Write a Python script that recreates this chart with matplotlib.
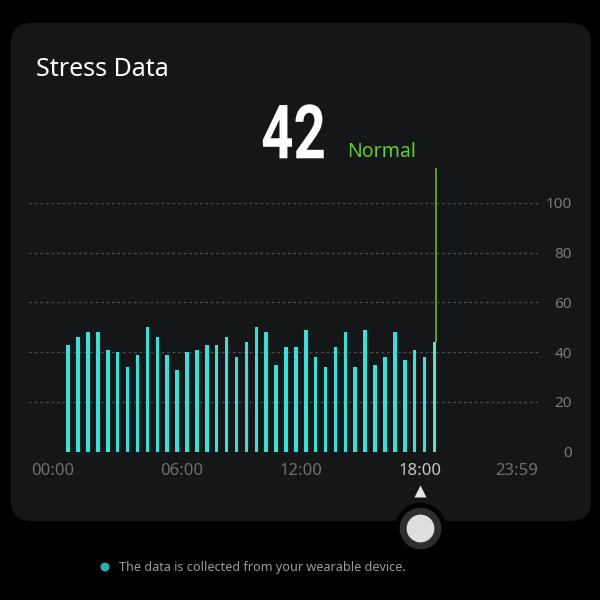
import numpy as np
import matplotlib
matplotlib.use("Agg")
import matplotlib.pyplot as plt
from matplotlib.patches import FancyBboxPatch, PathPatch, Circle
from matplotlib.textpath import TextPath
from matplotlib.font_manager import FontProperties
from matplotlib.transforms import blended_transform_factory, Affine2D, ScaledTranslation

# half-hour stress readings, 00:00 .. 18:30
slot_start = np.arange(0, 19, 0.5)
stress = [43, 46, 48, 48, 41, 40, 34, 39, 50, 46, 39, 33, 40, 41, 43, 43, 46, 38, 44,
          50, 48, 35, 42, 42, 49, 38, 34, 42, 48, 34, 49, 35, 38, 48, 37, 41, 38, 44]
current_value = 42
current_level = "Normal"
selected_hour = 18

xtick_hours = [0, 6, 12, 18, 24]
xtick_labels = ["00:00", "06:00", "12:00", "18:00", "23:59"]
ytick_values = [0, 20, 40, 60, 80, 100]

plt.rcParams["font.family"] = ["Noto Sans", "DejaVu Sans"]

fig = plt.figure(figsize=(6, 6), dpi=100)
fig.patch.set_facecolor("black")
px = Affine2D().scale(1 / 600) + fig.transFigure  # pixel coords, y up

# card
card = FancyBboxPatch((11, 79), 580, 498,
                      boxstyle="round,pad=0,rounding_size=20",
                      transform=px, facecolor="#151617",
                      edgecolor="none", zorder=-1)
fig.patches.append(card)

ax = fig.add_axes([29 / 600, 1 - 451.7 / 600, 510 / 600, 249 / 600])
ax.set_facecolor("none")
ax.set_xlim(-1.73, 24.03)
ax.set_ylim(0, 100)
for s in ax.spines.values():
    s.set_visible(False)

for v in ytick_values:
    ax.axhline(v, color="#4d4d4d", lw=0.9, ls=(0, (2.2, 2.2)), zorder=1)

centers = slot_start + 0.25
colors = ["#2fe4dc"] * (len(stress) - 1) + ["#46ecc4"]
ax.bar(centers, stress, width=0.18, color=colors, zorder=3)

# selected time marker line
ax.vlines(centers[-1] + 0.07, stress[-1], 114, color="#5e9f1c", lw=1.4,
          zorder=2, clip_on=False)

ax.yaxis.tick_right()
ax.set_yticks(ytick_values)
ax.set_yticklabels([str(v) for v in ytick_values])
ax.tick_params(axis="y", length=0, pad=23.8, labelsize=11, colors="#7a7a7a")
for lbl in ax.get_yticklabels():
    lbl.set_horizontalalignment("right")

ax.set_xticks(xtick_hours)
ax.set_xticklabels(xtick_labels)
ax.tick_params(axis="x", length=0, pad=8, labelsize=12, colors="#6f6f6f")
xlbls = ax.get_xticklabels()
for lbl, h in zip(xlbls, xtick_hours):
    if h == selected_hour:
        lbl.set_color("#c8c8c8")
xlbls[0].set_transform(xlbls[0].get_transform()
                       + ScaledTranslation(-10.5 / 100, 0, fig.dpi_scale_trans))
xlbls[-1].set_horizontalalignment("right")

# pointer + knob under the selected hour
bt = blended_transform_factory(ax.transData, fig.transFigure)
ax.plot(selected_hour, 1 - 490.5 / 600, marker="^", ms=9, color="#e6e6e6",
        mec="none", transform=bt, clip_on=False, zorder=5)
ax.plot(selected_hour, 1 - 528 / 600, marker="o", ms=37, color="black",
        mec="none", transform=bt, clip_on=False, zorder=5)
ax.plot(selected_hour, 1 - 528 / 600, marker="o", ms=30, color="#2e2e2e",
        mec="none", transform=bt, clip_on=False, zorder=6)
ax.plot(selected_hour, 1 - 528 / 600, marker="o", ms=20, color="#dedede",
        mec="none", transform=bt, clip_on=False, zorder=7)

fig.text(36 / 600, 1 - 70 / 600, "Stress Data", fontsize=18, color="white",
         va="center", ha="left")

# big condensed number: bold glyph path squeezed horizontally
tp = TextPath((0, 0), str(current_value), size=1,
              prop=FontProperties(family="Roboto", weight="bold"))
ext = tp.get_extents()
sy = 54 / ext.height
sx = 61 / ext.width
num_tr = (Affine2D().translate(-ext.x0, -ext.y0).scale(sx, sy)
          .translate(262.7, 600 - 158.3) + px)
fig.patches.append(PathPatch(tp, transform=num_tr, facecolor="white",
                             edgecolor="none"))

fig.text(347 / 600, 1 - 156.7 / 600, current_level, fontsize=14,
         color="#66cc22", ha="left", va="baseline")

# footnote
fig.patches.append(Circle((105, 600 - 567), 3.8, transform=px, color="#22b3b0"))
fig.text(119 / 600, 1 - 567 / 600, "The data is collected from your wearable device.",
         fontsize=9.1, color="#9c9c9c", ha="left", va="center")

fig.savefig("out.png", dpi=100, facecolor="black")
